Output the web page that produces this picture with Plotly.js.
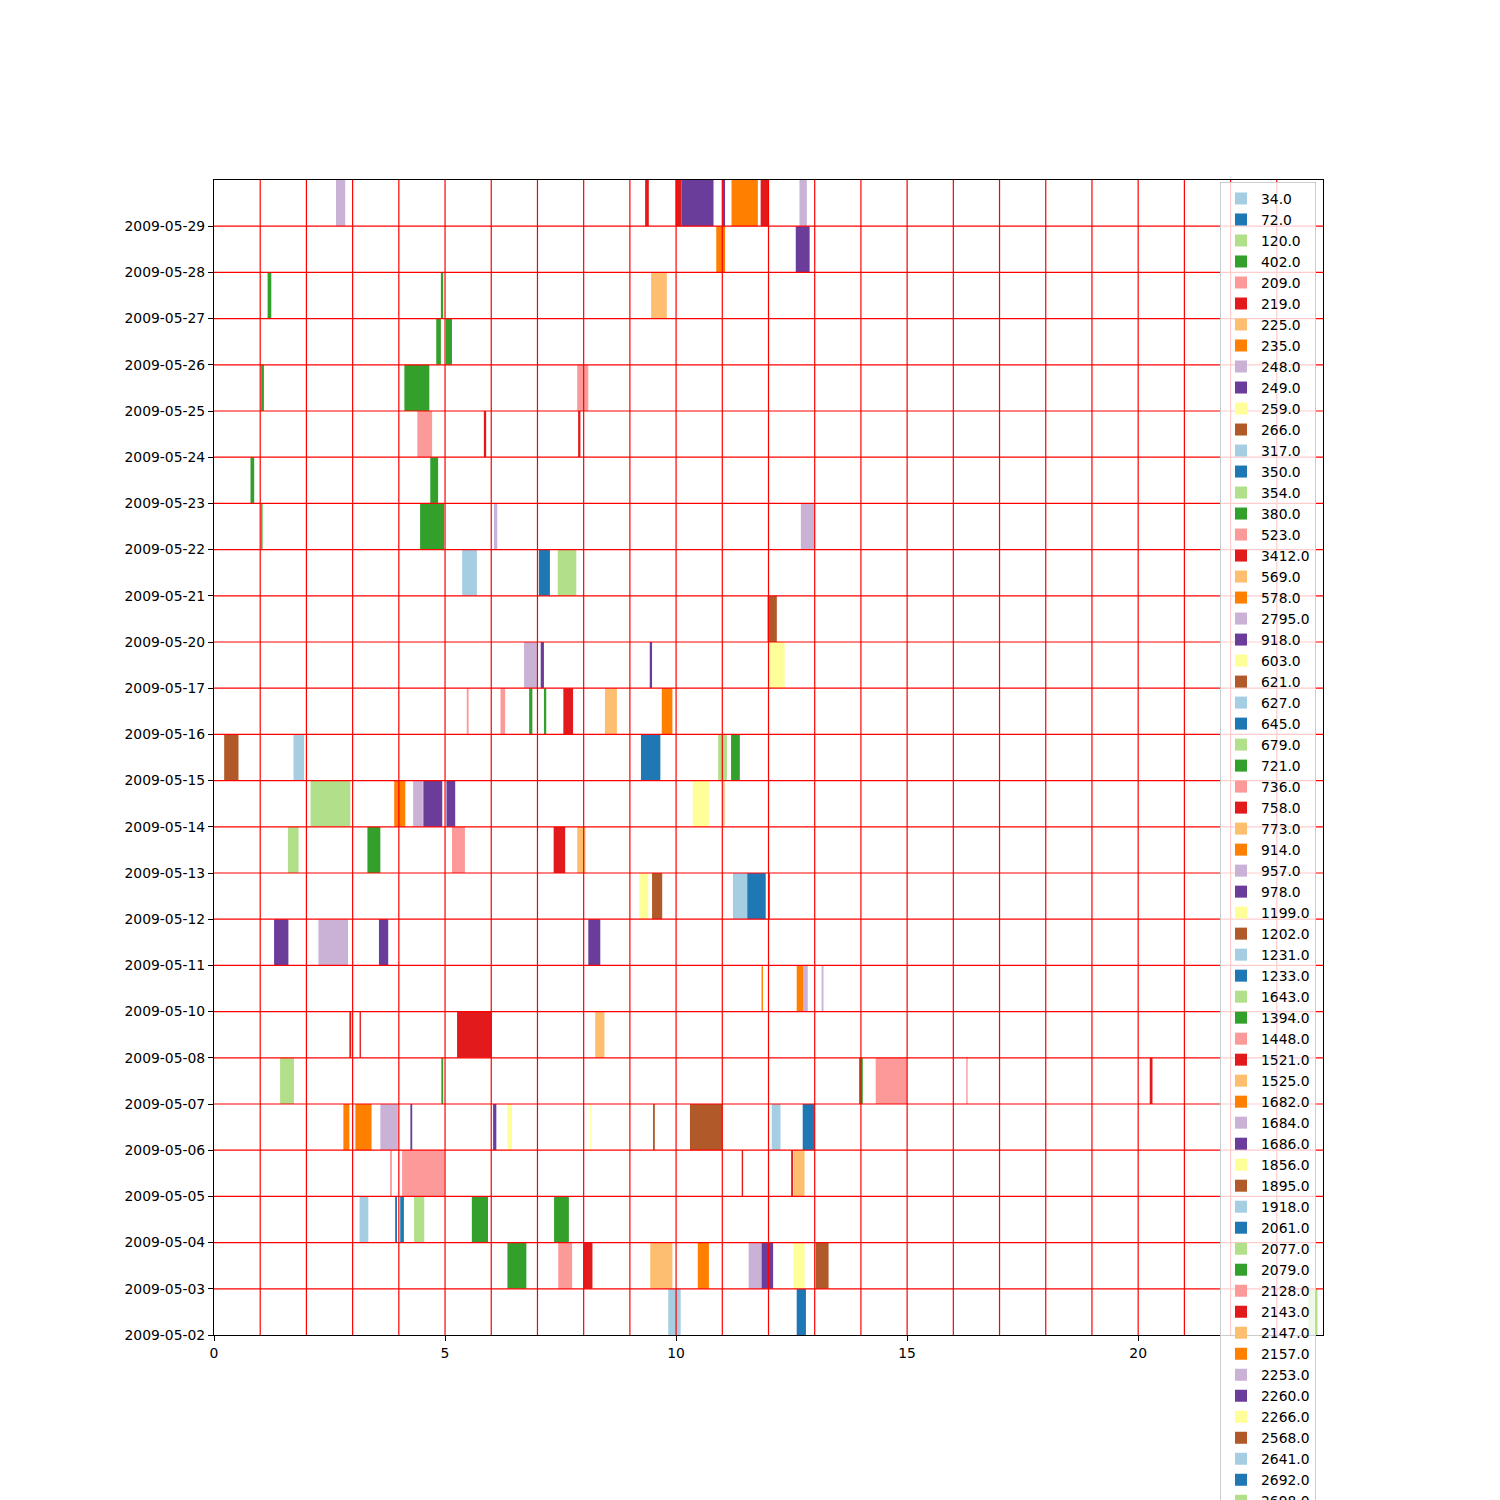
<!DOCTYPE html>
<html>
<head>
<meta charset="utf-8">
<script src="https://cdn.plot.ly/plotly-3.0.1.min.js"></script>
<style>html,body{margin:0;padding:0;background:#fff}#chart{width:1500px;height:1500px}</style>
</head>
<body>
<div id="chart"></div>
<script>
// y-axis categories (one row per day)
const dates = ["2009-05-02","2009-05-03","2009-05-04","2009-05-05","2009-05-06","2009-05-07",
  "2009-05-08","2009-05-10","2009-05-11","2009-05-12","2009-05-13","2009-05-14","2009-05-15",
  "2009-05-16","2009-05-17","2009-05-20","2009-05-21","2009-05-22","2009-05-23","2009-05-24",
  "2009-05-25","2009-05-26","2009-05-27","2009-05-28","2009-05-29"];

// legend entries in order of first appearance
const seriesNames = ["34.0","72.0","120.0","402.0","209.0","219.0","225.0","235.0","248.0","249.0",
  "259.0","266.0","317.0","350.0","354.0","380.0","523.0","3412.0","569.0","578.0","2795.0","918.0",
  "603.0","621.0","627.0","645.0","679.0","721.0","736.0","758.0","773.0","914.0","957.0","978.0",
  "1199.0","1202.0","1231.0","1233.0","1643.0","1394.0","1448.0","1521.0","1525.0","1682.0","1684.0",
  "1686.0","1856.0","1895.0","1918.0","2061.0","2077.0","2079.0","2128.0","2143.0","2147.0","2157.0",
  "2253.0","2260.0","2266.0","2568.0","2641.0","2692.0","2698.0"];

// bars: day index, start hour, end hour, series
const barDay = [0,0,0,
  1,1,1,1,1,1,1,1,1,
  2,2,2,2,2,2,
  3,3,3,3,3,
  4,4,4,4,4,4,4,4,4,4,4,
  5,5,5,5,5,5,
  6,6,6,6,
  7,7,7,7,
  8,8,8,8,
  9,9,9,9,9,
  10,10,10,10,10,
  11,11,11,11,11,11,11,
  12,12,12,12,12,
  13,13,13,13,13,13,13,
  14,14,14,14,
  15,
  16,16,16,
  17,17,17,17,
  18,18,
  19,19,19,
  20,20,20,
  21,21,
  22,22,22,
  23,23,
  24,24,24,24,24,24,24,24];
const barStart = [9.83,12.61,23.68,
  6.35,7.45,8.00,9.44,10.47,11.57,11.85,12.54,13.02,
  3.15,3.92,4.03,4.33,5.58,7.36,
  3.81,4.07,11.42,12.49,12.54,
  2.80,3.06,3.60,4.25,6.04,6.35,8.14,9.50,10.30,12.07,12.74,
  1.43,4.92,13.96,14.32,16.28,20.25,
  2.93,3.15,5.26,8.25,
  11.85,12.61,12.76,13.15,
  1.30,2.26,3.57,8.10,
  9.20,9.48,11.23,11.54,11.99,
  1.60,3.32,5.15,7.35,7.86,
  2.09,3.90,4.31,4.53,5.03,10.36,11.02,
  0.22,1.72,9.24,10.91,11.19,
  5.47,6.20,6.82,7.14,7.56,8.46,9.69,
  6.71,7.07,9.43,12.00,
  11.98,
  5.37,7.03,7.44,
  1.02,4.46,6.06,12.70,
  0.79,4.68,
  4.40,5.84,7.88,
  1.02,4.12,7.86,
  4.81,5.02,
  1.16,4.91,9.46,
  10.87,12.59,
  2.64,9.33,9.99,10.12,11.00,11.20,11.83,12.67];
const barEnd = [10.10,12.81,23.88,
  6.76,7.75,8.19,9.92,10.71,11.85,12.10,12.78,13.30,
  3.34,3.96,4.11,4.55,5.93,7.68,
  3.85,4.99,11.45,12.53,12.78,
  2.93,3.41,3.98,4.29,6.11,6.45,8.17,9.54,11.00,12.26,13.00,
  1.73,4.96,14.04,15.00,16.31,20.31,
  2.97,3.18,6.01,8.45,
  11.88,12.76,12.85,13.19,
  1.61,2.90,3.77,8.36,
  9.40,9.70,11.54,11.94,12.03,
  1.83,3.60,5.43,7.60,8.04,
  2.95,4.14,4.52,4.94,5.22,10.71,11.05,
  0.53,1.95,9.66,11.10,11.38,
  5.51,6.30,6.89,7.19,7.77,8.72,9.92,
  7.00,7.14,9.48,12.35,
  12.18,
  5.69,7.27,7.84,
  1.05,4.98,6.13,13.00,
  0.87,4.85,
  4.72,5.89,7.93,
  1.08,4.66,8.10,
  4.91,5.15,
  1.24,4.96,9.80,
  11.06,12.89,
  2.84,9.41,10.12,10.81,11.06,11.77,12.00,12.83];
const barSeries = ["34.0","72.0","120.0",
  "402.0","209.0","219.0","225.0","235.0","248.0","249.0","259.0","266.0",
  "317.0","350.0","350.0","354.0","380.0","380.0",
  "523.0","523.0","3412.0","3412.0","569.0",
  "578.0","578.0","2795.0","918.0","918.0","603.0","603.0","621.0","621.0","627.0","645.0",
  "679.0","721.0","721.0","736.0","736.0","758.0",
  "758.0","758.0","758.0","773.0",
  "914.0","914.0","957.0","957.0",
  "978.0","957.0","978.0","978.0",
  "1199.0","1202.0","1231.0","1233.0","1233.0",
  "1643.0","1394.0","1448.0","1521.0","1525.0",
  "1643.0","1682.0","1684.0","1686.0","1686.0","1856.0","1525.0",
  "1895.0","1918.0","2061.0","2077.0","2079.0",
  "2128.0","2128.0","2079.0","2079.0","2143.0","2147.0","2157.0",
  "2253.0","2260.0","2260.0","2266.0",
  "2568.0",
  "2641.0","2692.0","2698.0",
  "2079.0","2079.0","2253.0","2253.0",
  "721.0","721.0",
  "2128.0","2143.0","2143.0",
  "380.0","380.0","2128.0",
  "1394.0","1394.0",
  "402.0","402.0","2147.0",
  "2157.0","2260.0",
  "2253.0","2143.0","2143.0","2260.0","2260.0","2157.0","2143.0","2253.0"];

// matplotlib "Paired" colour cycle
const paired = ["#a6cee3","#1f78b4","#b2df8a","#33a02c","#fb9a99","#e31a1c",
  "#fdbf6f","#ff7f00","#cab2d6","#6a3d9a","#ffff99","#b15928"];

const traces = seriesNames.map((name, i) => {
  const idx = [];
  barSeries.forEach((s, k) => { if (s === name) idx.push(k); });
  return {
    type: 'bar', orientation: 'h', name: name,
    y: idx.map(k => barDay[k] + 0.5),
    base: idx.map(k => barStart[k]),
    x: idx.map(k => barEnd[k] - barStart[k]),
    width: 1,
    marker: {color: paired[i % 12], line: {width: 0}},
    hoverinfo: 'name+x'
  };
});

const NX = 24, NY = dates.length;
const shapes = [];
for (let v = 1; v < NX; v++) shapes.push({type:'line', layer:'above', xref:'x', yref:'y', x0:v, x1:v, y0:0, y1:NY, line:{color:'red', width:1.2}});
for (let h = 1; h < NY; h++) shapes.push({type:'line', layer:'above', xref:'x', yref:'y', x0:0, x1:NX, y0:h, y1:h, line:{color:'red', width:1.2}});

const fontFam = '"DejaVu Sans", Verdana, sans-serif';
const layout = {
  width: 1500, height: 1500,
  paper_bgcolor: '#fff', plot_bgcolor: '#fff',
  margin: {l: 214, r: 177, t: 180, b: 165, pad: 0, autoexpand: false},
  barmode: 'overlay',
  font: {family: fontFam, size: 13.9, color: '#000'},
  showlegend: true,
  xaxis: {range: [0, NX], tickvals: [0,5,10,15,20], ticktext: ['0','5','10','15','20'],
    showgrid: false, zeroline: false, showline: true, mirror: true, linecolor: '#000', linewidth: 1,
    ticks: 'outside', ticklen: 5, tickcolor: '#000', tickfont: {family: fontFam, size: 13.9, color:'#000'}},
  yaxis: {range: [0, NY], tickvals: dates.map((d, i) => i), ticktext: dates,
    showgrid: false, zeroline: false, showline: true, mirror: true, linecolor: '#000', linewidth: 1,
    ticks: 'outside', ticklen: 5, tickcolor: '#000', tickfont: {family: fontFam, size: 13.9, color:'#000'}},
  legend: {x: 0.9937, xanchor: 'right', y: 0.9983, yanchor: 'top',
    bgcolor: 'rgba(255,255,255,0.8)', bordercolor: '#cccccc', borderwidth: 1,
    font: {family: fontFam, size: 13.85, color: '#000'}, maxheight: 4000, tracegroupgap: 0},
  shapes: shapes
};

Plotly.newPlot('chart', traces, layout, {displayModeBar: false, staticPlot: true});
</script>
</body>
</html>
